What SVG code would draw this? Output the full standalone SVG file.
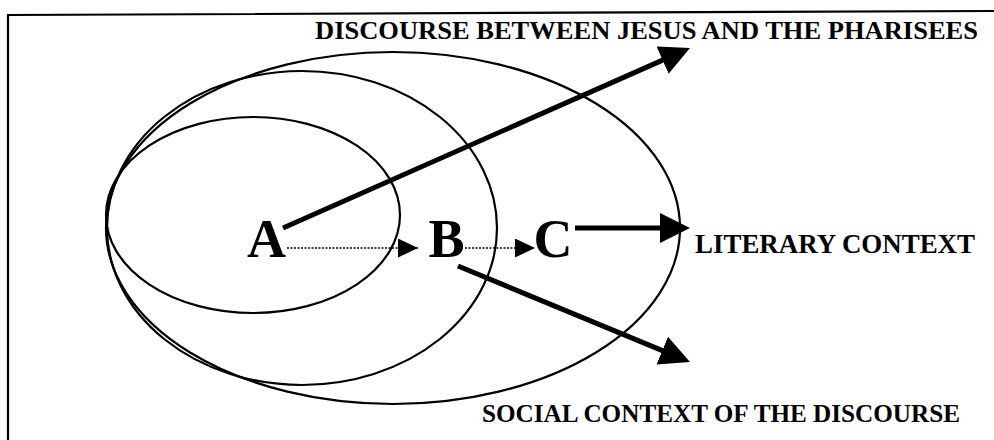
<svg xmlns="http://www.w3.org/2000/svg" width="994" height="440" viewBox="0 0 994 440">
<style>
.ell{fill:none;stroke:#000;stroke-width:2.2}
.big{stroke:#000;stroke-width:5;fill:none}
.dot{stroke:#000;stroke-width:1.5;stroke-dasharray:2 1.5;fill:none}
.lab{font-family:"Liberation Serif","Times New Roman",serif;font-weight:bold;fill:#000}
.letter{font-family:"Liberation Serif","Times New Roman",serif;font-weight:bold;font-size:54px;fill:#000;text-anchor:middle}
</style>
<defs>
<marker id="bighead" markerUnits="userSpaceOnUse" markerWidth="32" markerHeight="32" refX="10" refY="15" orient="auto">
<path d="M0,0 L30,15 L0,30 z" fill="#000"/>
</marker>
<marker id="smallhead" markerUnits="userSpaceOnUse" markerWidth="22" markerHeight="22" refX="20" refY="9.5" orient="auto">
<path d="M0,0 L20,9.5 L0,19 z" fill="#000"/>
</marker>
</defs>
<rect x="0" y="0" width="994" height="440" fill="#fff"/>
<path d="M8,440 L8,15 L994,11" fill="none" stroke="#000" stroke-width="2.2"/>
<g id="context-c"><ellipse class="ell" cx="393" cy="228" rx="287" ry="176"/></g>
<g id="context-b"><ellipse class="ell" cx="302" cy="228" rx="195" ry="157"/></g>
<g id="context-a"><ellipse class="ell" cx="253" cy="215" rx="147" ry="98"/></g>
<g id="connectors">
<line class="big" x1="283" y1="228" x2="671.7" y2="56.1" marker-end="url(#bighead)"/>
<line class="big" x1="575" y1="228" x2="670" y2="228" marker-end="url(#bighead)"/>
<line class="big" x1="458" y1="266" x2="671.5" y2="354.4" marker-end="url(#bighead)"/>
<line class="dot" x1="287" y1="248" x2="418" y2="248" marker-end="url(#smallhead)"/>
<line class="dot" x1="465" y1="248" x2="535" y2="248" marker-end="url(#smallhead)"/>
</g>
<g id="node-a"><text class="letter" x="266.5" y="257">A</text></g>
<g id="node-b"><text class="letter" x="446.5" y="257">B</text></g>
<g id="node-c"><text class="letter" x="553" y="257">C</text></g>
<g id="label-discourse"><text class="lab" x="315" y="39" font-size="25" textLength="663" lengthAdjust="spacingAndGlyphs">DISCOURSE BETWEEN JESUS AND THE PHARISEES</text></g>
<g id="label-literary"><text class="lab" x="695" y="253" font-size="27" textLength="280" lengthAdjust="spacingAndGlyphs">LITERARY CONTEXT</text></g>
<g id="label-social"><text class="lab" x="482" y="422" font-size="26" textLength="478" lengthAdjust="spacingAndGlyphs">SOCIAL CONTEXT OF THE DISCOURSE</text></g>
</svg>
